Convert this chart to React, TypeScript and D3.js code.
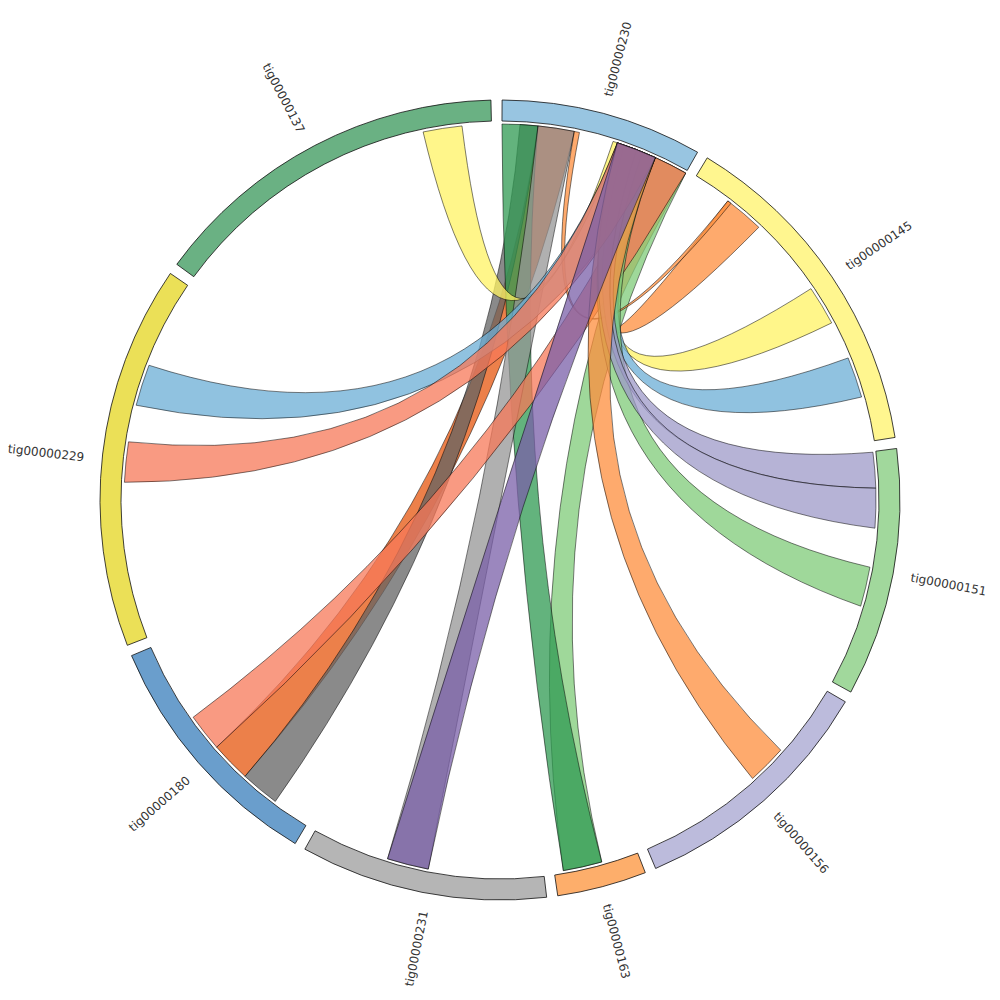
import React from "react";
import * as d3 from "d3";

// ---- data ----
const groupNames = ["tig00000230","tig00000145","tig00000151","tig00000156","tig00000163","tig00000231","tig00000180","tig00000229","tig00000137"];
const groupLengths = [586, 996, 722, 736, 260, 718, 726, 1116, 1052]; // kb
const groupColors = ["#98c5e1","#fff68f","#a1d89c","#bcbbdc","#fdae6b","#b5b5b5","#6a9ecc","#ebe057","#6ab183"];

// links (drawing order bottom -> top): contig A [start,end] kb  <->  contig B [start,end] kb
const linkGroupA = [6, 1, 6, 4, 4, 5, 1, 8, 6, 7, 1, 1, 2, 2, 2, 7, 3, 5];
const linkStartA = [238, 122, 118, 112, 112, 354, 122, 842, 362, 718, 492, 732, 354, 2, 112, 480, 228, 354];
const linkEndA   = [362, 246, 238, 232, 232, 482, 134, 962, 478, 846, 614, 858, 476, 112, 234, 604, 350, 482];
const linkGroupB = [0, 0, 0, 0, 0, 0, 0, 0, 0, 0, 0, 0, 0, 0, 0, 0, 0, 0];
const linkStartB = [110, 482, 55, 482, 0, 110, 222, 344, 482, 358, 440, 400, 358, 380, 358, 358, 358, 358];
const linkEndB   = [222, 586, 110, 586, 110, 222, 238, 358, 586, 482, 482, 482, 482, 440, 420, 482, 482, 482];
const linkColors = ["#e6550d","#fd8d3c","#636363","#7fcb78","#2f9a52","#969696","#fd8d3c","#fff363","#f77858","#6baed6","#fff363","#6baed6","#7fcb78","#9e9ac8","#9e9ac8","#f77858","#fd8d3c","#7a5fa8"];

const W = 1000, H = 1000;
const cx = 500, cy = 500;
const outerR = 400, innerR = 379, chordR = 376;
const padDeg = 1.6, offsetDeg = 0.3;
const bend = 0.05; // control point = bend * (P1 + P2)

function ribbonPath(s0: number, s1: number, t0: number, t1: number, r: number) {
  const pt = (a: number) => [r * Math.sin(a), -r * Math.cos(a)];
  const p = d3.path();
  const a0 = pt(s0);
  p.moveTo(a0[0], a0[1]);
  p.arc(0, 0, r, s0 - Math.PI / 2, s1 - Math.PI / 2, false);
  const q1 = pt(s1), q2 = pt(t0);
  p.quadraticCurveTo(bend * (q1[0] + q2[0]), bend * (q1[1] + q2[1]), q2[0], q2[1]);
  p.arc(0, 0, r, t0 - Math.PI / 2, t1 - Math.PI / 2, false);
  const q3 = pt(t1), q4 = pt(s0);
  p.quadraticCurveTo(bend * (q3[0] + q4[0]), bend * (q3[1] + q4[1]), q4[0], q4[1]);
  p.closePath();
  return p.toString();
}

export default function App() {
  const total = d3.sum(groupLengths);
  const degPerKb = (360 - padDeg * groupNames.length) / total;
  const starts: number[] = [];
  let acc = offsetDeg;
  groupLengths.forEach((len) => { starts.push(acc); acc += len * degPerKb + padDeg; });
  const angle = (g: number, pos: number) => {
    const s = d3.scaleLinear().domain([0, groupLengths[g]]).range([starts[g], starts[g] + groupLengths[g] * degPerKb]);
    return (s(pos) * Math.PI) / 180;
  };
  const arc = d3.arc<any>().innerRadius(innerR).outerRadius(outerR);

  const groups = groupNames.map((name, i) => ({
    name, color: groupColors[i],
    startAngle: angle(i, 0), endAngle: angle(i, groupLengths[i]),
  }));
  const links = linkGroupA.map((ga, i) => ({
    d: ribbonPath(angle(ga, linkStartA[i]), angle(ga, linkEndA[i]), angle(linkGroupB[i], linkStartB[i]), angle(linkGroupB[i], linkEndB[i]), chordR),
    color: linkColors[i],
  }));

  return (
    <svg width={W} height={H} style={{ display: "block", position: "absolute", left: 0, top: 0 }}>
      <g transform={`translate(${cx},${cy})`}>
        {links.map((l, i) => (
          <path key={"l" + i} d={l.d} fill={l.color} fillOpacity={0.75} stroke="#000" strokeWidth={0.6} strokeOpacity={0.85} />
        ))}
        {groups.map((g, i) => (
          <path key={"g" + i} d={arc(g) as any} fill={g.color} stroke="#111" strokeWidth={0.8} />
        ))}
        {groups.map((g, i) => {
          const mid = ((g.startAngle + g.endAngle) / 2) * 180 / Math.PI;
          const right = mid < 180;
          const rot = right ? mid - 90 : mid + 90;
          const x = 418 * Math.sin((mid * Math.PI) / 180);
          const y = -418 * Math.cos((mid * Math.PI) / 180);
          return (
            <text key={"t" + i} transform={`translate(${x},${y}) rotate(${rot})`} textAnchor={right ? "start" : "end"}
              dy={right ? "0.35em" : "0.8em"} fontFamily="DejaVu Sans" fontSize={12} fill="#333">{g.name}</text>
          );
        })}
      </g>
    </svg>
  );
}
